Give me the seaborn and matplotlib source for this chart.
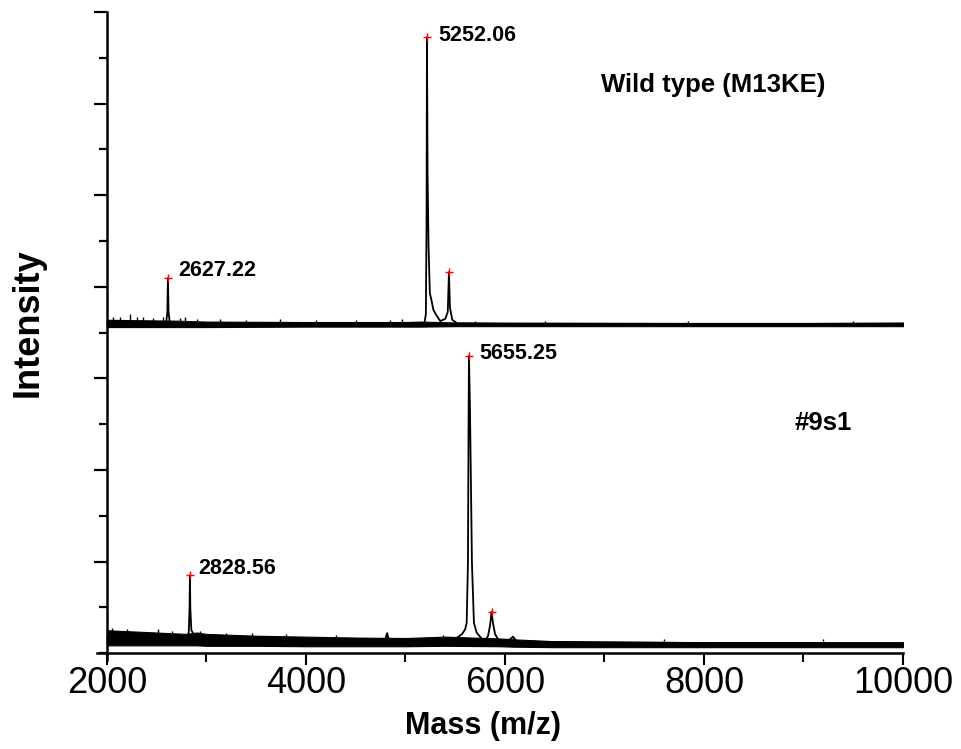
import numpy as np
import pandas as pd
import matplotlib
matplotlib.use("Agg")
import matplotlib.pyplot as plt
import seaborn as sns
from matplotlib.ticker import MultipleLocator

# ---------------- data ----------------
# Upper spectrum: Wild type (M13KE), intensity in stacked axis units
upper_mass = [2000, 2595, 2607, 2613, 2619, 2632, 5190, 5205, 5212, 5216, 5222, 5232,
              5245, 5262, 5280, 5310, 5350, 5400, 5425, 5437, 5447, 5470, 5520, 10000]
upper_int = [7.20, 7.20, 7.45, 8.19, 7.45, 7.20, 7.20, 7.40, 9.50, 13.45, 10.5, 8.87,
             7.86, 7.70, 7.50, 7.38, 7.25, 7.30, 7.45, 8.32, 7.55, 7.28, 7.20, 7.18]
upper_env_mass = [2000, 2300, 2700, 3000, 4000, 5000, 5150, 5500, 6000, 7000, 8000, 9000, 10000]
upper_env_lo = [7.12, 7.12, 7.12, 7.12, 7.13, 7.13, 7.13, 7.14, 7.14, 7.14, 7.14, 7.14, 7.14]
upper_env_hi = [7.28, 7.27, 7.26, 7.24, 7.23, 7.23, 7.24, 7.22, 7.21, 7.21, 7.21, 7.21, 7.22]
upper_spike_mass = [2060, 2130, 2231, 2300, 2362, 2462, 2560, 2734, 2784, 2900, 3136, 3400,
                    3739, 4100, 4500, 4844, 4962, 5700, 6400, 7839, 9500]
upper_spike_int = [7.34, 7.33, 7.40, 7.34, 7.34, 7.32, 7.33, 7.32, 7.34, 7.30, 7.29, 7.28,
                   7.29, 7.27, 7.27, 7.28, 7.29, 7.26, 7.25, 7.26, 7.25]

# Lower spectrum: #9s1
lower_mass = [2000, 2800, 2822, 2830, 2834, 2838, 2848, 2875, 2900, 4790, 4814, 4840,
              5450, 5520, 5570, 5600, 5615, 5628, 5634, 5638, 5648, 5668, 5688, 5715,
              5760, 5799, 5830, 5850, 5865, 5880, 5900, 5930, 5980, 6050, 6080, 6120, 10000]
lower_int = [0.33, 0.30, 0.45, 0.98, 1.70, 0.98, 0.50, 0.40, 0.33, 0.25, 0.43, 0.25,
             0.30, 0.34, 0.42, 0.52, 0.66, 1.97, 5.00, 6.49, 5.37, 1.97, 0.66, 0.45,
             0.33, 0.25, 0.38, 0.60, 0.90, 0.65, 0.42, 0.30, 0.27, 0.30, 0.36, 0.25, 0.19]
lower_env_mass = [2000, 2300, 2600, 2800, 2900, 3000, 3500, 4000, 4500, 5000, 5400,
                  5950, 6100, 6500, 7000, 8000, 9000, 10000]
lower_env_lo = [0.17, 0.17, 0.17, 0.17, 0.17, 0.16, 0.16, 0.15, 0.15, 0.15, 0.16,
                0.15, 0.14, 0.13, 0.13, 0.13, 0.13, 0.13]
lower_env_hi = [0.50, 0.47, 0.44, 0.42, 0.45, 0.42, 0.38, 0.36, 0.34, 0.33, 0.36,
                0.32, 0.30, 0.26, 0.25, 0.24, 0.24, 0.24]
lower_spike_mass = [2050, 2200, 2513, 2650, 2935, 3200, 3457, 3800, 4300, 4814, 5377,
                    6080, 7600, 9200]
lower_spike_int = [0.55, 0.53, 0.52, 0.48, 0.48, 0.44, 0.45, 0.41, 0.39, 0.46, 0.40,
                   0.36, 0.27, 0.27]

# Labelled peaks: (mass position, apex, label)
peak_mass = [2613, 5216, 5437, 2834, 5638, 5865]
peak_int = [8.19, 13.45, 8.32, 1.70, 6.49, 0.90]
peak_labels = ["2627.22", "5252.06", "", "2828.56", "5655.25", ""]

x_ticks = [2000, 4000, 6000, 8000, 10000]
x_tick_labels = ["2000", "4000", "6000", "8000", "10000"]
panel_titles = ["Wild type (M13KE)", "#9s1"]

# ---------------- figure ----------------
sns.set_style("ticks")
plt.rcParams["font.family"] = ["Liberation Sans", "DejaVu Sans"]
plt.rcParams["text.color"] = "black"
plt.rcParams["axes.labelcolor"] = "black"
plt.rcParams["xtick.color"] = "black"
plt.rcParams["ytick.color"] = "black"

W, H = 961, 749
fig = plt.figure(figsize=(W / 100, H / 100), dpi=100)
ax = fig.add_axes([97 / W, (H - 660) / H, 806 / W, 648 / H])

for em, lo, hi in [(upper_env_mass, upper_env_lo, upper_env_hi),
                   (lower_env_mass, lower_env_lo, lower_env_hi)]:
    ax.fill_between(em, lo, hi, color="black", linewidth=0.8)

ax.vlines(upper_spike_mass, [7.2] * len(upper_spike_mass), upper_spike_int,
          color="black", linewidth=1.0)
ax.vlines(lower_spike_mass, [0.3] * len(lower_spike_mass), lower_spike_int,
          color="black", linewidth=1.0)

sns.lineplot(x=upper_mass, y=upper_int, ax=ax, color="black", linewidth=1.3,
             estimator=None, sort=False)
sns.lineplot(x=lower_mass, y=lower_int, ax=ax, color="black", linewidth=1.3,
             estimator=None, sort=False)

ax.plot(peak_mass, peak_int, linestyle="none", marker="+", color="red",
        markersize=6, markeredgewidth=1.0)

offsets = [(10, 8), (11, 2), (0, 0), (8, 7), (10, 2), (0, 0)]
for m, v, lab, off in zip(peak_mass, peak_int, peak_labels, offsets):
    if lab:
        ax.annotate(lab, xy=(m, v), xytext=off, textcoords="offset pixels",
                    ha="left", va="center", fontsize=15.5, fontweight="bold",
                    color="black")

ax.set_xlim(1900, 10000)
ax.set_ylim(-0.15, 14)
ax.spines["top"].set_visible(False)
ax.spines["right"].set_visible(False)
ax.spines["left"].set_position(("data", 2000))
ax.spines["bottom"].set_position(("data", 0))
for s in ("left", "bottom"):
    ax.spines[s].set_linewidth(1.8)
    ax.spines[s].set_color("black")

ax.set_xticks(x_ticks)
ax.set_xticklabels(x_tick_labels)
ax.xaxis.set_minor_locator(MultipleLocator(1000))
ax.set_yticks(np.arange(2, 15, 2))
ax.set_yticklabels([])
ax.yaxis.set_minor_locator(MultipleLocator(1))
ax.tick_params(axis="x", which="major", length=8.5, width=1.5, direction="out",
               labelsize=26, pad=1, color="black", labelcolor="black")
ax.tick_params(axis="x", which="minor", length=6.5, width=1.5, direction="out",
               color="black")
ax.tick_params(axis="y", which="major", length=9.5, width=1.6, direction="out",
               color="black")
ax.tick_params(axis="y", which="minor", length=6, width=1.6, direction="out",
               color="black")
ax.set_xlabel("")
ax.set_ylabel("")

fig.text(483 / W, 1 - 726 / H, "Mass (m/z)", ha="center", va="center",
         fontsize=22, fontweight="bold")
fig.text(28 / W, 1 - 323 / H, "Intensity", ha="center", va="center",
         rotation=90, fontsize=26, fontweight="bold")
fig.text(713 / W, 1 - 85 / H, panel_titles[0], ha="center", va="center",
         fontsize=18.5, fontweight="bold")
fig.text(823 / W, 1 - 423 / H, panel_titles[1], ha="center", va="center",
         fontsize=18.5, fontweight="bold")

fig.savefig("out.png", dpi=100, facecolor="white")
